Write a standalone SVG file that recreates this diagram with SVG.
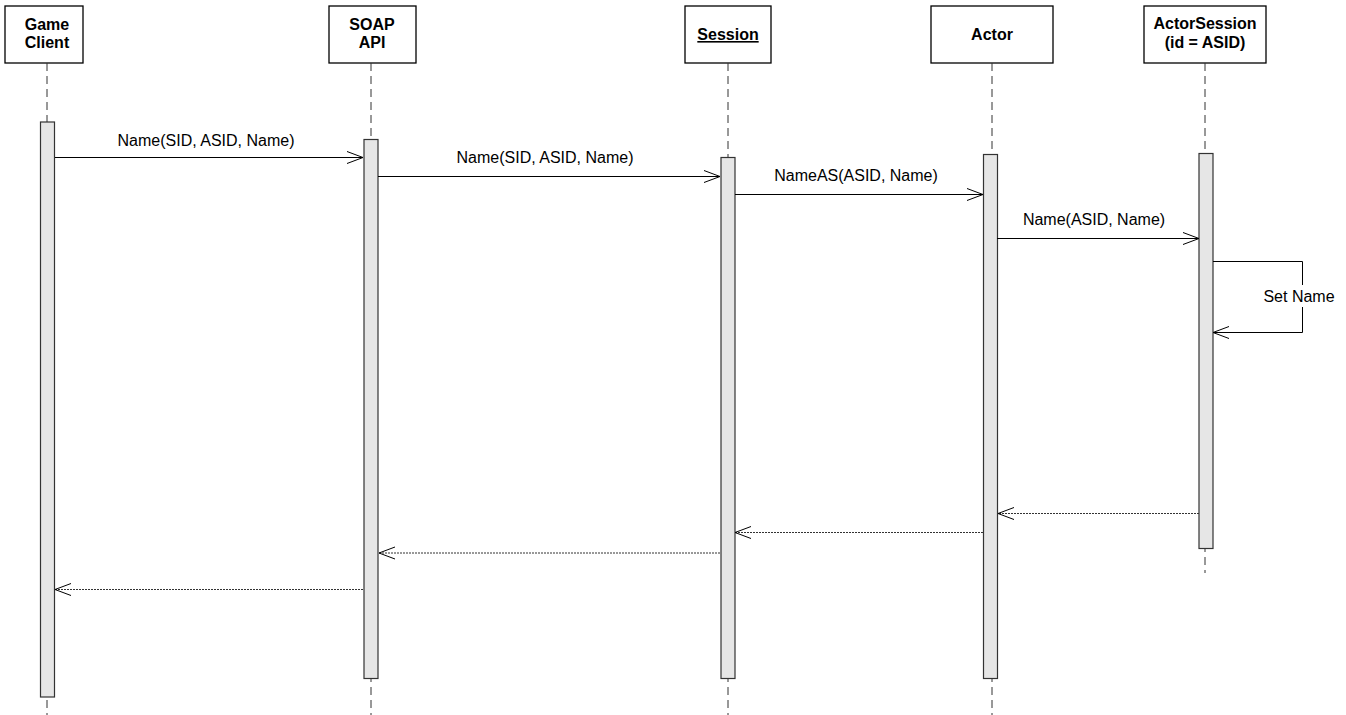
<svg xmlns="http://www.w3.org/2000/svg" width="1346" height="715" viewBox="0 0 1346 715">
<style>
.box{fill:#fff;stroke:#000;stroke-width:1.3}
.hd{font-family:"Liberation Sans",Arial,sans-serif;font-size:16px;font-weight:bold;fill:#000;text-anchor:middle}
.lbl{font-family:"Liberation Sans",Arial,sans-serif;font-size:16px;fill:#000;text-anchor:middle}
.life{stroke:#333;stroke-width:1;stroke-dasharray:8,5;fill:none}
.act{fill:#e6e6e6;stroke:#333;stroke-width:1.2}
.msg{stroke:#000;stroke-width:1;fill:none}
.ret{stroke:#333;stroke-width:1;stroke-dasharray:2,1;fill:none}
.ah{stroke:#000;stroke-width:1;fill:none}
</style>
<g id="gameclient">
<rect class="box" x="5" y="6" width="78" height="57"/>
<text class="hd" x="47" y="30">Game</text>
<text class="hd" x="47" y="48">Client</text>
<line class="life" x1="47" y1="63" x2="47" y2="715"/>
<rect class="act" x="40.5" y="122" width="14" height="575"/>
</g>
<g id="soapapi">
<rect class="box" x="329" y="6" width="87" height="57"/>
<text class="hd" x="372" y="30">SOAP</text>
<text class="hd" x="372" y="48">API</text>
<line class="life" x1="371" y1="63" x2="371" y2="715"/>
<rect class="act" x="364" y="139.5" width="14" height="539"/>
</g>
<g id="session">
<rect class="box" x="685" y="6" width="86" height="57"/>
<text class="hd" x="728" y="40" text-decoration="underline">Session</text>
<line class="life" x1="728" y1="63" x2="728" y2="715"/>
<rect class="act" x="721" y="157.5" width="14" height="521"/>
</g>
<g id="actor">
<rect class="box" x="931" y="6" width="122" height="57"/>
<text class="hd" x="992" y="40">Actor</text>
<line class="life" x1="992" y1="63" x2="992" y2="715"/>
<rect class="act" x="983.5" y="154.5" width="14" height="524"/>
</g>
<g id="actorsession">
<rect class="box" x="1144" y="6" width="122" height="57"/>
<text class="hd" x="1205" y="29">ActorSession</text>
<text class="hd" x="1205" y="48">(id = ASID)</text>
<line class="life" x1="1205" y1="63" x2="1205" y2="573"/>
<rect class="act" x="1199" y="153.5" width="14" height="395"/>
</g>
<g id="connectors">
<line class="msg" x1="55" y1="157.5" x2="363" y2="157.5"/>
<polyline class="ah" points="347,151.5 363,157.5 347,163.5"/>
<text class="lbl" x="206" y="146">Name(SID, ASID, Name)</text>

<line class="msg" x1="378" y1="176.5" x2="720" y2="176.5"/>
<polyline class="ah" points="704,170.5 720,176.5 704,182.5"/>
<text class="lbl" x="545" y="163">Name(SID, ASID, Name)</text>

<line class="msg" x1="735" y1="194.5" x2="983" y2="194.5"/>
<polyline class="ah" points="967,188.5 983,194.5 967,200.5"/>
<text class="lbl" x="856" y="181">NameAS(ASID, Name)</text>

<line class="msg" x1="997" y1="238.5" x2="1199" y2="238.5"/>
<polyline class="ah" points="1183,232.5 1199,238.5 1183,244.5"/>
<text class="lbl" x="1094" y="225">Name(ASID, Name)</text>

<polyline class="msg" stroke="#333" points="1213,261.5 1302.5,261.5 1302.5,332.5 1213,332.5"/>
<polyline class="ah" points="1229,326.5 1213,332.5 1229,338.5"/>
<rect x="1266" y="285" width="68" height="22" fill="#fff"/>
<text class="lbl" x="1299" y="302">Set Name</text>

<line class="ret" x1="1199" y1="513.5" x2="998" y2="513.5"/>
<polyline class="ah" points="1014,507.5 998,513.5 1014,519.5"/>

<line class="ret" x1="983" y1="532.5" x2="735" y2="532.5"/>
<polyline class="ah" points="751,526.5 735,532.5 751,538.5"/>

<line class="ret" x1="720" y1="553" x2="379" y2="553"/>
<polyline class="ah" points="395,547 379,553 395,559"/>

<line class="ret" x1="363" y1="589.5" x2="55" y2="589.5"/>
<polyline class="ah" points="71,583.5 55,589.5 71,595.5"/>
</g>
</svg>
